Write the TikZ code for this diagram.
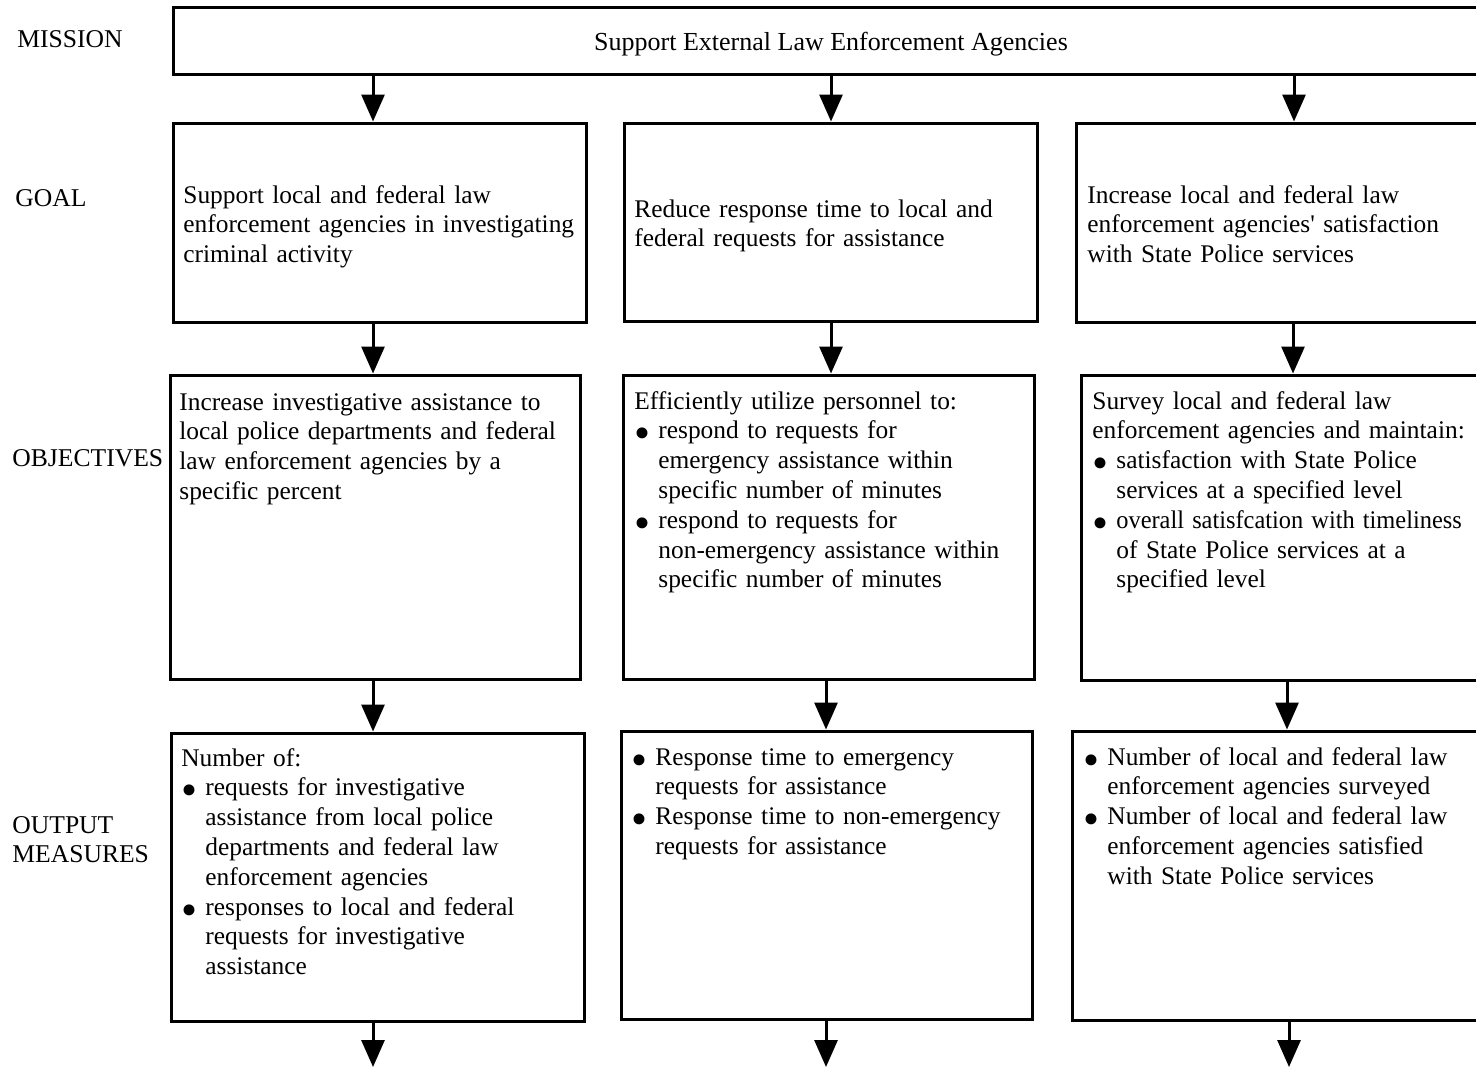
\documentclass[tikz,border=0pt]{standalone}
\usepackage{fontspec}
\setmainfont{Liberation Serif}
\usetikzlibrary{arrows.meta,fit}
% bullet with a fixed-width slot, and the matching indent for follow-on lines
\newcommand\bul{\makebox[12pt][l]{\raisebox{-5pt}{\scalebox{1.8}{\textbullet}}}}
\newcommand\ind{\hspace*{12pt}}
\begin{document}
\begin{tikzpicture}[x=0.5pt,y=-0.5pt,
  box/.style={draw,line width=1.5pt,inner sep=0pt},
  txt/.style={anchor=base west,inner sep=0pt,text width=240pt,
    font=\fontsize{12.7pt}{14.9pt}\selectfont},
  lbl/.style={anchor=base west,inner sep=0pt,text width=76pt,
    font=\fontsize{12.8pt}{14.9pt}\selectfont},
  arr/.style={line width=1.5pt,-{Triangle[width=11.5pt,length=13.5pt]}}]
\useasboundingbox (0,0) rectangle (1476,1067);
\clip (0,0) rectangle (1476,1067);

% row labels
\node[lbl] (lm) at (17,47) {MISSION};
\node[lbl] (lg) at (15,206) {GOAL};
\node[lbl] (lo) at (12,466) {OBJECTIVES};
\node[lbl] (lp) at (12,833) {OUTPUT\\MEASURES};

% mission
\node[box,fit={(173,7) (1530,74)}] (m) {};
\node[anchor=base,inner sep=0pt,font=\fontsize{13pt}{14.9pt}\selectfont] (mt) at (831,50)
  {Support External Law Enforcement Agencies};

% goals
\node[box,fit={(173,123) (586,322)}] (g1) {};
\node[box,fit={(624,123) (1037,321)}] (g2) {};
\node[box,fit={(1076,123) (1530,322)}] (g3) {};
\node[txt] (g1t) at (183,203) {Support local and federal law\\
  enforcement agencies in investigating\\criminal activity};
\node[txt] (g2t) at (634,217) {Reduce response time to local and\\
  federal requests for assistance};
\node[txt] (g3t) at (1087,203) {Increase local and federal law\\
  enforcement agencies\textquotesingle{} satisfaction\\with State Police services};

% objectives
\node[box,fit={(170,375) (580,679)}] (o1) {};
\node[box,fit={(623,375) (1034,679)}] (o2) {};
\node[box,fit={(1081,375) (1530,680)}] (o3) {};
\node[txt] (o1t) at (179,410) {Increase investigative assistance to\\
  local police departments and federal\\law enforcement agencies by a\\specific percent};
\node[txt] (o2t) at (634,409) {Efficiently utilize personnel to:\\
  \bul respond to requests for\\\ind emergency assistance within\\\ind specific number of minutes\\
  \bul respond to requests for\\\ind non-emergency assistance within\\\ind specific number of minutes};
\node[txt] (o3t) at (1092,409) {Survey local and federal law\\
  enforcement agencies and maintain:\\
  \bul satisfaction with State Police\\\ind services at a specified level\\
  \bul \scalebox{0.96}[1]{overall satisfcation with timeliness}\\\ind of State Police services at a\\\ind specified level};

% output measures
\node[box,fit={(171,733) (584,1021)}] (p1) {};
\node[box,fit={(621,731) (1032,1019)}] (p2) {};
\node[box,fit={(1072,731) (1530,1020)}] (p3) {};
\node[txt] (p1t) at (181,766) {Number of:\\
  \bul requests for investigative\\\ind assistance from local police\\\ind departments and federal law\\\ind enforcement agencies\\
  \bul responses to local and federal\\\ind requests for investigative\\\ind assistance};
\node[txt] (p2t) at (631,765) {\bul Response time to emergency\\\ind requests for assistance\\
  \bul Response time to non-emergency\\\ind requests for assistance};
\node[txt] (p3t) at (1083,765) {\bul Number of local and federal law\\\ind enforcement agencies surveyed\\
  \bul Number of local and federal law\\\ind enforcement agencies satisfied\\\ind with State Police services};

% arrow columns
\coordinate (a1) at (373,0);
\coordinate (a2) at (831,0);
\coordinate (a3) at (1294,0);
\coordinate (b3) at (1293,0);
\coordinate (c2) at (826,0);
\coordinate (c3) at (1287,0);
\coordinate (d3) at (1289,0);
\coordinate (e1) at (373,1067);
\coordinate (e2) at (826,1067);
\coordinate (e3) at (1289,1067);

\draw[arr] (m.south -| a1) -- (g1.north -| a1);
\draw[arr] (m.south -| a2) -- (g2.north -| a2);
\draw[arr] (m.south -| a3) -- (g3.north -| a3);
\draw[arr] (g1.south -| a1) -- (o1.north -| a1);
\draw[arr] (g2.south -| a2) -- (o2.north -| a2);
\draw[arr] (g3.south -| b3) -- (o3.north -| b3);
\draw[arr] (o1.south -| a1) -- (p1.north -| a1);
\draw[arr] (o2.south -| c2) -- (p2.north -| c2);
\draw[arr] (o3.south -| c3) -- (p3.north -| c3);
\draw[arr] (p1.south -| a1) -- (e1);
\draw[arr] (p2.south -| c2) -- (e2);
\draw[arr] (p3.south -| d3) -- (e3);
\end{tikzpicture}
\end{document}
